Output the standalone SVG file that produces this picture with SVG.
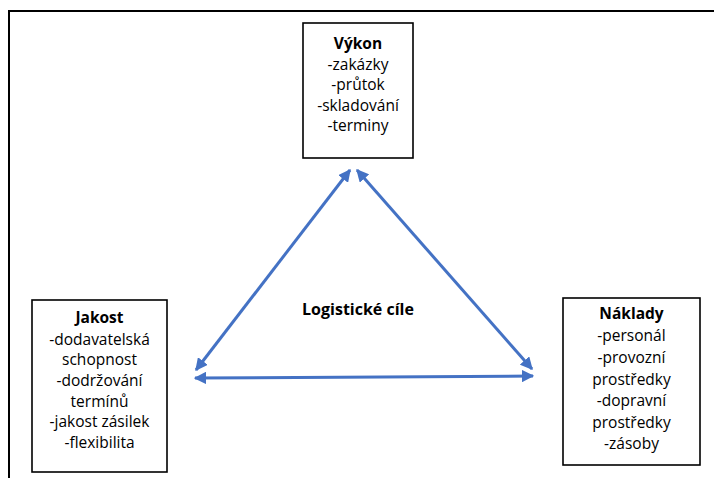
<svg xmlns="http://www.w3.org/2000/svg" width="714" height="478" viewBox="0 0 714 478">
  <defs>
    <style>
      .frame { fill: none; stroke: #000; stroke-width: 2; }
      .box { fill: #fff; stroke: #000; stroke-width: 1.6; }
      .t { font-family: "Open Sans", "Noto Sans", sans-serif; font-size: 15.5px; fill: #000; text-anchor: middle; }
      .b { font-weight: bold; }
      .conn { stroke: #4472C4; stroke-width: 3; fill: none; marker-start: url(#ah); marker-end: url(#ah); }
    </style>
    <marker id="ah" viewBox="0 0 10 10" refX="9" refY="5" markerWidth="4.2" markerHeight="4.2" orient="auto-start-reverse" markerUnits="strokeWidth">
      <path d="M0,0 L10,5 L0,10 Z" fill="#4472C4"/>
    </marker>
  </defs>

  <rect width="714" height="478" fill="#fff"/>

  <!-- outer frame (open on the right and bottom) -->
  <path class="frame" d="M9,478 V11 H714"/>

  <!-- connectors -->
  <g id="connectors">
    <line class="conn" x1="350" y1="170" x2="196" y2="370"/>
    <line class="conn" x1="357" y1="170" x2="532" y2="369"/>
    <line class="conn" x1="195" y1="378" x2="533" y2="376"/>
  </g>

  <g id="vykon">
    <rect class="box" x="303" y="23" width="110" height="135"/>
    <text class="t" x="358" y="49"><tspan class="b">Výkon</tspan></text>
    <text class="t" x="358" y="70">-zakázky</text>
    <text class="t" x="358" y="90">-průtok</text>
    <text class="t" x="358" y="111">-skladování</text>
    <text class="t" x="358" y="131">-terminy</text>
  </g>

  <g id="jakost">
    <rect class="box" x="32" y="300" width="135" height="172"/>
    <text class="t" x="99.5" y="323"><tspan class="b">Jakost</tspan></text>
    <text class="t" x="99.5" y="345">-dodavatelská</text>
    <text class="t" x="99.5" y="365">schopnost</text>
    <text class="t" x="99.5" y="386">-dodržování</text>
    <text class="t" x="99.5" y="407">termínů</text>
    <text class="t" x="99.5" y="427">-jakost zásilek</text>
    <text class="t" x="99.5" y="448">-flexibilita</text>
  </g>

  <g id="naklady">
    <rect class="box" x="563" y="298" width="137" height="167"/>
    <text class="t" x="631.5" y="319"><tspan class="b">Náklady</tspan></text>
    <text class="t" x="631.5" y="341">-personál</text>
    <text class="t" x="631.5" y="363">-provozní</text>
    <text class="t" x="631.5" y="385">prostředky</text>
    <text class="t" x="631.5" y="406">-dopravní</text>
    <text class="t" x="631.5" y="428">prostředky</text>
    <text class="t" x="631.5" y="449">-zásoby</text>
  </g>

  <g id="center-label">
    <text class="t b" x="358" y="315" style="font-size:16px">Logistické cíle</text>
  </g>
</svg>
